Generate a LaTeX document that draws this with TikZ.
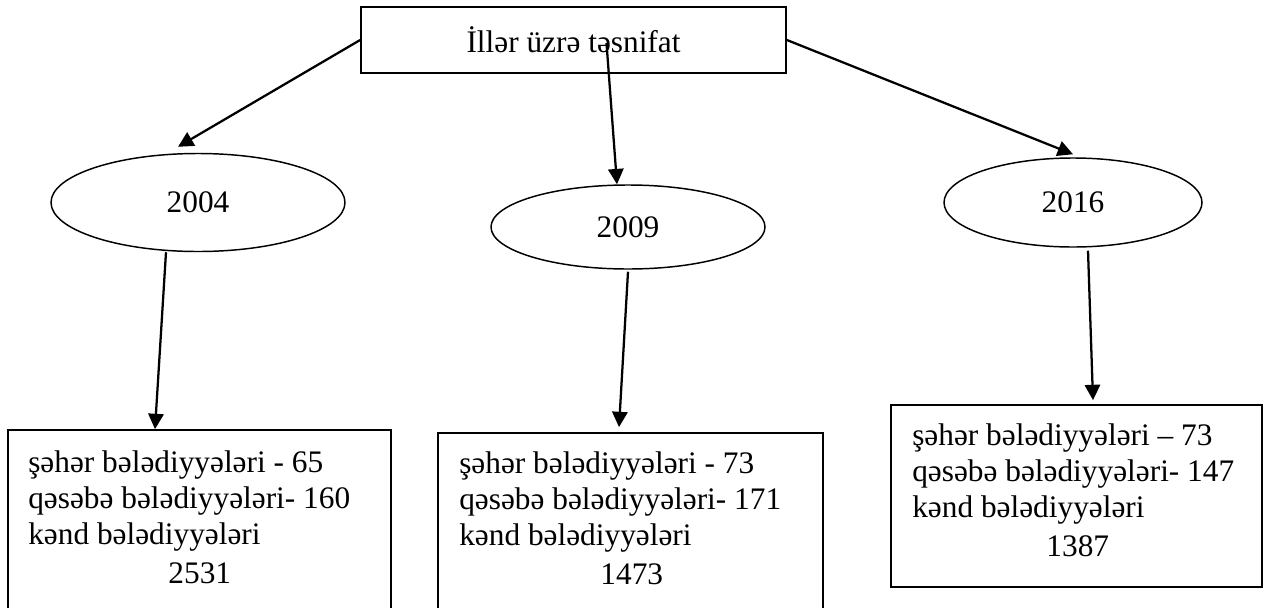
\documentclass[tikz,border=0pt]{standalone}
\usepackage{fontspec}
\setmainfont{Liberation Serif}
\usetikzlibrary{shapes.geometric,arrows.meta}
\tikzset{
  boxnode/.style={draw, line width=1.3pt, rectangle, inner sep=0pt},
  ovalnode/.style={draw, line width=1.1pt, ellipse, inner sep=0pt, font=\fontsize{23.5}{27}\selectfont},
  txtnode/.style={inner sep=0pt, anchor=north west, align=left, font=\fontsize{23.5}{27}\selectfont},
  arr/.style={line width=1.7pt, -{Triangle[length=11.5pt,width=11.5pt]}}
}
\begin{document}
\begin{tikzpicture}[x=0.75pt,y=-0.75pt]
\useasboundingbox (0,0) rectangle (1269,607);
\clip (0,0) rectangle (1269,607);
% top box
\node[boxnode, minimum width=318.75pt, minimum height=49.5pt, font=\fontsize{23.5}{27}\selectfont] (top) at (573.5,40) {İllər üzrə təsnifat};
% ellipses
\node[ovalnode, minimum width=220.5pt, minimum height=73.5pt] (e1) at (198,202.5) {2004};
\node[ovalnode, minimum width=205.5pt, minimum height=63pt] (e2) at (628,227) {2009};
\node[ovalnode, minimum width=193.5pt, minimum height=66.75pt] (e3) at (1073,202.5) {2016};
% bottom boxes
\node[boxnode, minimum width=287.25pt, minimum height=142.5pt] (b1) at (199.5,525) {};
\node[boxnode, minimum width=288.75pt, minimum height=140.25pt] (b2) at (630.5,526.5) {};
\node[boxnode, minimum width=278.25pt, minimum height=136.5pt] (b3) at (1076.5,496) {};
% box texts
\node[txtnode] (t1) at (28,450.6) {şəhər bələdiyyələri - 65\\qəsəbə bələdiyyələri- 160\\kənd bələdiyyələri\\[2.5pt]\makebox[257.25pt][c]{2531}};
\node[txtnode] (t2) at (459,451.6) {şəhər bələdiyyələri - 73\\qəsəbə bələdiyyələri- 171\\kənd bələdiyyələri\\[2.5pt]\makebox[258.75pt][c]{1473}};
\node[txtnode] (t3) at (912,423.6) {şəhər bələdiyyələri – 73\\qəsəbə bələdiyyələri- 147\\kənd bələdiyyələri\\[2.5pt]\makebox[248.25pt][c]{1387}};
% connectors
\draw[arr] (top.west) -- ([shift={(-20,-6)}]e1.north);
\draw[arr] ([shift={(33,3)}]top.center) -- ([shift={(-11,0)}]e2.north);
\draw[arr] (top.east) -- ([shift={(0,-3)}]e3.north);
\draw[arr] ([shift={(-32,0)}]e1.south) -- ([shift={(-44.5,0)}]b1.north);
\draw[arr] ([shift={(0,2)}]e2.south) -- ([shift={(-11.5,-5)}]b2.north);
\draw[arr] ([shift={(15,3)}]e3.south) -- ([shift={(16.5,-4)}]b3.north);
\end{tikzpicture}
\end{document}
